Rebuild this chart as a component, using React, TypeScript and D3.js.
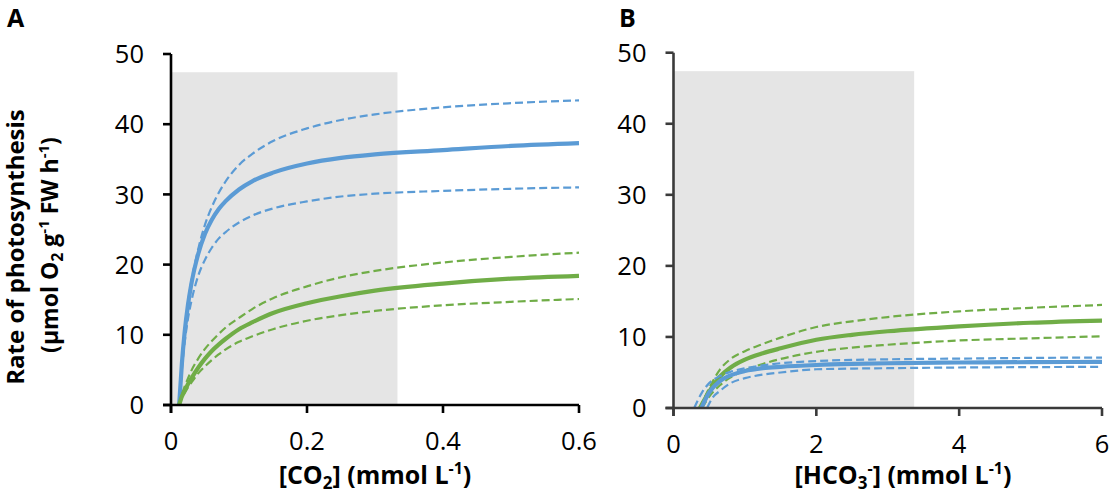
import React from 'react';
import * as d3 from 'd3';

// Panel A: [CO2] (mmol L-1)
const xA = [0.012, 0.016, 0.02, 0.025, 0.03, 0.04, 0.05, 0.06, 0.07, 0.08, 0.1, 0.12, 0.15, 0.2, 0.25, 0.3, 0.4, 0.5, 0.6];
const blueA = [0, 5.9, 10.3, 14.3, 17.3, 21.5, 24.4, 26.4, 27.9, 29.0, 30.7, 31.9, 33.1, 34.4, 35.2, 35.7, 36.3, 36.9, 37.3];
const blueUpperA = [0, 5.4, 10.5, 14.6, 17.6, 22.2, 25.7, 28.2, 30.2, 31.8, 34.2, 35.8, 37.6, 39.4, 40.6, 41.4, 42.4, 43.0, 43.4];
const blueLowerA = [0, 5.1, 8.8, 12.3, 14.8, 18.4, 20.7, 22.4, 23.7, 24.6, 26.0, 27.0, 28.0, 29.0, 29.7, 30.1, 30.5, 30.8, 31.0];
const greenA = [0, 1.2, 2.0, 3.0, 3.8, 5.3, 6.6, 7.7, 8.6, 9.4, 10.8, 11.8, 13.1, 14.5, 15.5, 16.3, 17.3, 18.0, 18.4];
const greenUpperA = [0, 1.5, 2.6, 3.8, 4.9, 6.6, 8.0, 9.1, 10.1, 11.0, 12.4, 13.7, 15.2, 16.9, 18.2, 19.1, 20.3, 21.1, 21.7];
const greenLowerA = [0, 1.0, 1.7, 2.5, 3.2, 4.5, 5.5, 6.4, 7.2, 7.9, 9.0, 9.8, 10.8, 12.0, 12.8, 13.4, 14.2, 14.7, 15.1];

// Panel B: [HCO3-] (mmol L-1)
const xGreenB = [0.37, 0.5, 0.65, 0.8, 1.0, 1.25, 1.5, 2, 2.5, 3, 4, 5, 6];
const greenB = [0, 2.3, 4.4, 5.7, 6.8, 7.7, 8.4, 9.6, 10.3, 10.8, 11.5, 12.0, 12.3];
const greenUpperB = [0, 2.8, 5.4, 6.9, 8.0, 9.0, 9.9, 11.4, 12.2, 12.8, 13.6, 14.1, 14.5];
const xGreenLowerB = [0.4, 0.5, 0.65, 0.8, 1.0, 1.25, 1.5, 2, 2.5, 3, 4, 5, 6];
const greenLowerB = [0, 1.6, 3.2, 4.3, 5.3, 6.2, 6.9, 7.9, 8.5, 8.9, 9.5, 9.8, 10.1];
const xBlueB = [0.39, 0.5, 0.65, 0.8, 1.0, 1.25, 1.5, 2, 2.5, 3, 4, 5, 6];
const blueB = [0, 2.2, 3.8, 4.6, 5.2, 5.6, 5.8, 6.05, 6.2, 6.3, 6.4, 6.45, 6.5];
const xBlueUpperB = [0.29, 0.4, 0.5, 0.65, 0.8, 1.0, 1.25, 1.5, 2, 3, 4, 5, 6];
const blueUpperB = [0, 2.2, 3.5, 4.5, 5.1, 5.6, 6.0, 6.3, 6.6, 6.85, 6.95, 7.05, 7.1];
const xBlueLowerB = [0.47, 0.55, 0.65, 0.8, 1.0, 1.25, 1.5, 2, 3, 4, 5, 6];
const blueLowerB = [0, 1.5, 2.4, 3.5, 4.2, 4.7, 5.0, 5.45, 5.6, 5.7, 5.75, 5.8];

const yTicks = [0, 10, 20, 30, 40, 50];
const xTicksA = [0, 0.2, 0.4, 0.6];
const xTickLabelsA = ['0', '0.2', '0.4', '0.6'];
const xTicksB = [0, 2, 4, 6];
const xTickLabelsB = ['0', '2', '4', '6'];

// shaded range (upper x bound, upper y bound)
const shadeA = [0.333, 47.4];
const shadeB = [3.37, 47.4];

const BLUE = '#5b9bd5';
const GREEN = '#70ad47';
const FONT = '"Open Sans", "Noto Sans", sans-serif';

type Series = { x: number[]; y: number[]; color: string; dashed: boolean };

const zip = (x: number[], y: number[]) => x.map((v, i) => [v, y[i]] as [number, number]);

interface PanelProps {
  xDomain: [number, number];
  xRange: [number, number];
  yRange: [number, number];
  xTicks: number[];
  xTickLabels: string[];
  shade: number[];
  series: Series[];
  axisColor: string;
}

const Panel: React.FC<PanelProps> = ({ xDomain, xRange, yRange, xTicks, xTickLabels, shade, series, axisColor }) => {
  const x = d3.scaleLinear().domain(xDomain).range(xRange);
  const y = d3.scaleLinear().domain([0, 50]).range(yRange);
  const line = d3.line<[number, number]>()
    .x(d => x(d[0]))
    .y(d => y(d[1]))
    .curve(d3.curveMonotoneX);
  const x0 = x(0);
  const y0 = y(0);
  const tick = 8;

  return (
    <g>
      <rect x={x0} y={y(shade[1])} width={x(shade[0]) - x0} height={y0 - y(shade[1])} fill="#e5e5e5" />
      {series.map((s, i) => (
        <path
          key={i}
          d={line(zip(s.x, s.y)) || ''}
          fill="none"
          stroke={s.color}
          strokeWidth={s.dashed ? 2.2 : 4.2}
          strokeDasharray={s.dashed ? '8,4' : undefined}
          strokeLinecap="butt"
          strokeLinejoin="round"
        />
      ))}
      {/* axes */}
      <line x1={x0} x2={x0} y1={y(50)} y2={y0 + tick} stroke={axisColor} strokeWidth={2.6} />
      <line x1={x0 - tick} x2={xRange[1]} y1={y0} y2={y0} stroke={axisColor} strokeWidth={2.6} />
      {yTicks.map(t => (
        <g key={'y' + t}>
          <line x1={x0 - tick} x2={x0} y1={y(t)} y2={y(t)} stroke={axisColor} strokeWidth={2.6} />
          <text x={x0 - 27} y={y(t)} dy="0.36em" textAnchor="end" fontSize={25.5} fontFamily={FONT} fill="#000">
            {t}
          </text>
        </g>
      ))}
      {xTicks.map((t, i) => (
        <g key={'x' + t}>
          <line x1={x(t)} x2={x(t)} y1={y0} y2={y0 + tick} stroke={axisColor} strokeWidth={2.6} />
          <text x={x(t)} y={y0 + 45} textAnchor="middle" fontSize={25.5} fontFamily={FONT} fill="#000">
            {xTickLabels[i]}
          </text>
        </g>
      ))}
    </g>
  );
};

const App: React.FC = () => {
  const seriesA: Series[] = [
    { x: xA, y: blueUpperA, color: BLUE, dashed: true },
    { x: xA, y: blueLowerA, color: BLUE, dashed: true },
    { x: xA, y: blueA, color: BLUE, dashed: false },
    { x: xA, y: greenUpperA, color: GREEN, dashed: true },
    { x: xA, y: greenLowerA, color: GREEN, dashed: true },
    { x: xA, y: greenA, color: GREEN, dashed: false },
  ];
  const seriesB: Series[] = [
    { x: xGreenB, y: greenUpperB, color: GREEN, dashed: true },
    { x: xGreenLowerB, y: greenLowerB, color: GREEN, dashed: true },
    { x: xGreenB, y: greenB, color: GREEN, dashed: false },
    { x: xBlueUpperB, y: blueUpperB, color: BLUE, dashed: true },
    { x: xBlueLowerB, y: blueLowerB, color: BLUE, dashed: true },
    { x: xBlueB, y: blueB, color: BLUE, dashed: false },
  ];

  return (
    <svg
      width={1111}
      height={495}
      style={{ position: 'absolute', left: 0, top: 0, background: '#fff' }}
      fontFamily={FONT}
    >
      <rect width={1111} height={495} fill="#fff" />
      <Panel
        xDomain={[0, 0.6]}
        xRange={[171, 579]}
        yRange={[405, 54]}
        xTicks={xTicksA}
        xTickLabels={xTickLabelsA}
        shade={shadeA}
        series={seriesA}
        axisColor="#000"
      />
      <Panel
        xDomain={[0, 6]}
        xRange={[673.5, 1102]}
        yRange={[408, 52.7]}
        xTicks={xTicksB}
        xTickLabels={xTickLabelsB}
        shade={shadeB}
        series={seriesB}
        axisColor="#3a3a3a"
      />

      {/* panel letters */}
      <text x={7} y={27} fontSize={25} fontWeight="bold">A</text>
      <text x={619} y={27} fontSize={25} fontWeight="bold">B</text>

      {/* y axis title */}
      <g transform="translate(24,247) rotate(-90)">
        <text x={0} y={0} textAnchor="middle" fontSize={24} fontWeight="bold">Rate of photosynthesis</text>
      </g>
      <g transform="translate(58,245) rotate(-90)">
        <text x={0} y={0} textAnchor="middle" fontSize={23} fontWeight="bold">
          (µmol O<tspan dy={5} fontSize={16}>2</tspan>
          <tspan dy={-5}> g</tspan>
          <tspan dy={-9} fontSize={15}>-1</tspan>
          <tspan dy={9}> FW h</tspan>
          <tspan dy={-9} fontSize={15}>-1</tspan>
          <tspan dy={9}>)</tspan>
        </text>
      </g>

      {/* x axis titles */}
      <text x={375} y={484} textAnchor="middle" fontSize={25} fontWeight="bold">
        [CO<tspan dy={5} fontSize={17}>2</tspan>
        <tspan dy={-5}>] (mmol L</tspan>
        <tspan dy={-10} fontSize={16}>-1</tspan>
        <tspan dy={10}>)</tspan>
      </text>
      <text x={903} y={484} textAnchor="middle" fontSize={25} fontWeight="bold">
        [HCO<tspan dy={5} fontSize={17}>3</tspan>
        <tspan dy={-15} fontSize={16}>-</tspan>
        <tspan dy={10}>] (mmol L</tspan>
        <tspan dy={-10} fontSize={16}>-1</tspan>
        <tspan dy={10}>)</tspan>
      </text>
    </svg>
  );
};

export default App;
